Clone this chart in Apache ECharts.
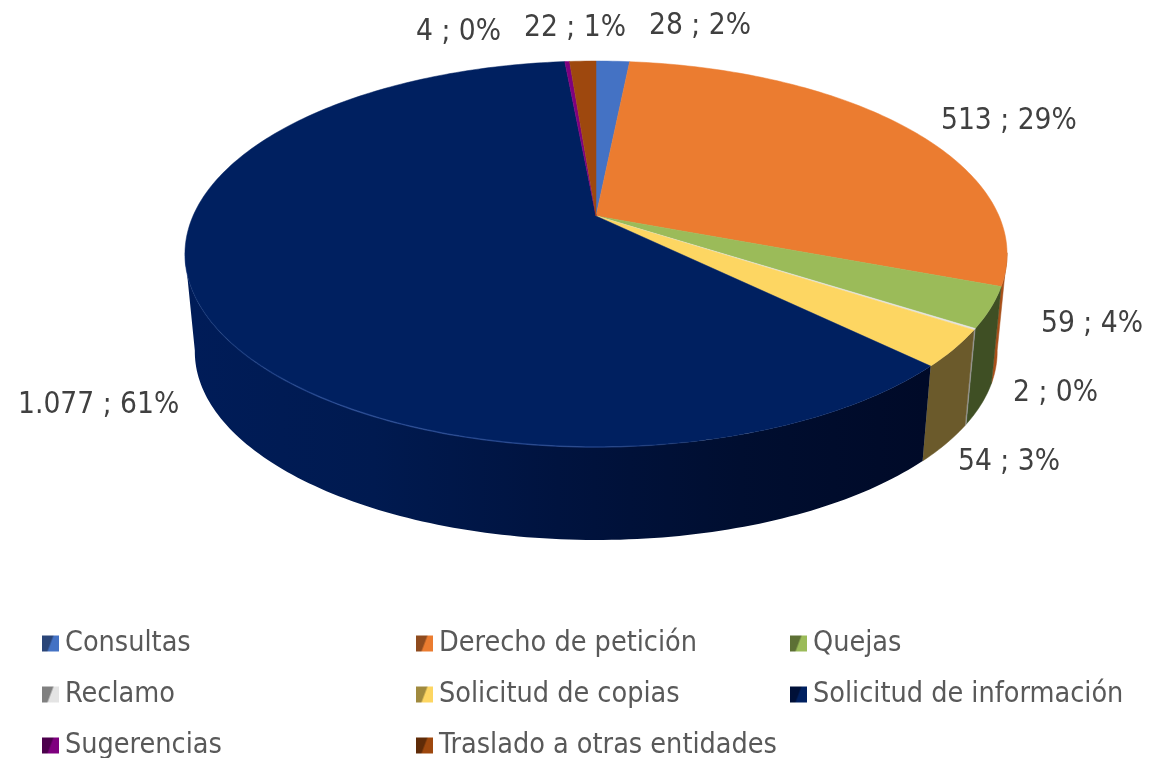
<!DOCTYPE html>
<html>
<head>
<meta charset="utf-8">
<style>html,body{margin:0;padding:0;background:#fff;overflow:hidden}</style>
<script src="https://cdn.jsdelivr.net/npm/echarts@6/dist/echarts.min.js"></script>
</head>
<body>
<div id="main" style="width:1151px;height:758px"></div>
<script>
// data
var categories = ['Consultas', 'Derecho de petición', 'Quejas', 'Reclamo', 'Solicitud de copias', 'Solicitud de información', 'Sugerencias', 'Traslado a otras entidades'];
var values = [28, 513, 59, 2, 54, 1077, 4, 22];
var valueLabels = ['28', '513', '59', '2', '54', '1.077', '4', '22'];
var percentLabels = ['2%', '29%', '4%', '0%', '3%', '61%', '0%', '1%'];

// styles
var topColors = ['#4472c4', '#eb7c30', '#9bbb59', '#e4e4e4', '#fdd662', '#002060', '#7f007f', '#9e480e'];
var wallColors = ['#2a4578', '#a8501a', '#3f4f24', '#9a9a9a', '#6b5a2b', '#00103a', '#4c004c', '#5f2b08'];
var legendDark = ['#2a4578', '#8f4b1e', '#5d7035', '#808080', '#a08a3e', '#001038', '#4c004c', '#5f2b08'];
var labelSpots = [[649, 26], [941, 121], [1041, 324], [1013, 393], [958, 462], [18, 405], [416, 32], [524, 28]];
var FONT = '"DejaVu Sans Condensed", "DejaVu Sans", sans-serif';

// the pie is a tilted disc, seen in perspective
var cx = 596, cy = 216, radX = 403, radY = 185.5, persp = 0.197;
var wallScale = 0.976, wallShift = 103.7;
var wallFrom = 101, wallTo = 259;

var total = values.reduce(function (a, b) { return a + b; }, 0);

function topPoint(deg) {
    var t = deg * Math.PI / 180;
    var w = 1 + persp * Math.cos(t);
    return [cx + radX * Math.sin(t) / w, cy - radY * Math.cos(t) / w];
}

function lowPoint(deg) {
    var p = topPoint(deg);
    return [cx + wallScale * (p[0] - cx), wallShift + wallScale * p[1]];
}

function arc(from, to, fn) {
    var pts = [];
    var n = Math.max(2, Math.ceil(Math.abs(to - from)));
    for (var i = 0; i <= n; i++) {
        pts.push(fn(from + (to - from) * i / n));
    }
    return pts;
}

function sliceRenderer(idx) {
    return function (params, api) {
        var before = 0;
        for (var i = 0; i < idx; i++) before += values[i];
        var start = before / total * 360;
        var end = start + api.value(0) / total * 360;
        var children = [];

        var a = Math.max(start, wallFrom), b = Math.min(end, wallTo);
        if (b > a) {
            var wallPts = arc(a, b, topPoint).concat(arc(b, a, lowPoint));
            var wallFill = wallColors[idx];
            if (idx === 5) {
                wallFill = {
                    type: 'linear', x: 190, y: 0, x2: 925, y2: 0, global: true,
                    colorStops: [
                        { offset: 0, color: '#001c58' },
                        { offset: 0.25, color: '#001a50' },
                        { offset: 0.5, color: '#00133f' },
                        { offset: 0.75, color: '#000e30' },
                        { offset: 1, color: '#000a28' }
                    ]
                };
            }
            children.push({
                type: 'polygon', z2: 1, silent: true,
                shape: { points: wallPts },
                style: { fill: wallFill, stroke: idx === 5 ? null : wallColors[idx], lineWidth: 0.5 }
            });
            // rim highlight on the navy slice only, fading out to the right
            if (idx === 5) {
                children.push({
                    type: 'polyline', z2: 3, silent: true,
                    shape: { points: arc(a, b, topPoint) },
                    style: {
                        fill: null, lineWidth: 1.5,
                        stroke: {
                            type: 'linear', x: 190, y: 0, x2: 925, y2: 0, global: true,
                            colorStops: [
                                { offset: 0, color: 'rgba(40,80,160,0.1)' },
                                { offset: 0.2, color: 'rgba(50,85,160,0.7)' },
                                { offset: 0.55, color: 'rgba(50,85,160,0.6)' },
                                { offset: 0.7, color: 'rgba(50,85,160,0)' },
                                { offset: 1, color: 'rgba(50,85,160,0)' }
                            ]
                        }
                    }
                });
            }
        }

        var topPts = [[cx, cy]].concat(arc(start, end, topPoint));
        children.push({
            type: 'polygon', z2: 2, silent: true,
            shape: { points: topPts },
            style: { fill: topColors[idx], stroke: topColors[idx], lineWidth: 0.5 }
        });

        children.push({
            type: 'text', z2: 5, silent: true,
            x: labelSpots[idx][0], y: labelSpots[idx][1],
            style: {
                text: valueLabels[idx] + ' ; ' + percentLabels[idx],
                fill: '#404040', font: '29.6px ' + FONT,
                verticalAlign: 'middle', align: 'left'
            }
        });
        return { type: 'group', children: children };
    };
}

var series = categories.map(function (name, i) {
    return {
        name: name,
        type: 'custom',
        coordinateSystem: 'none',
        animation: false,
        silent: true,
        itemStyle: { color: topColors[i] },
        data: [[values[i]]],
        renderItem: sliceRenderer(i)
    };
});

function legendColumn(left, ids) {
    return {
        orient: 'vertical',
        left: left,
        top: 629,
        height: 200,
        itemWidth: 17,
        itemHeight: 16,
        itemGap: 22,
        icon: 'rect',
        selectedMode: false,
        padding: 0,
        textStyle: { color: '#595959', fontSize: 28.5, fontFamily: FONT, padding: [0, 0, 0, 1] },
        data: ids.map(function (i) {
            return {
                name: categories[i],
                itemStyle: {
                    color: {
                        type: 'linear', x: 0, y: 0.3, x2: 1, y2: 0.7,
                        colorStops: [
                            { offset: 0, color: legendDark[i] },
                            { offset: 0.45, color: legendDark[i] },
                            { offset: 0.55, color: topColors[i] },
                            { offset: 1, color: topColors[i] }
                        ]
                    }
                }
            };
        })
    };
}

var chart = echarts.init(document.getElementById('main'));
chart.setOption({
    animation: false,
    backgroundColor: '#ffffff',
    legend: [
        legendColumn(42, [0, 3, 6]),
        legendColumn(416, [1, 4, 7]),
        legendColumn(790, [2, 5])
    ],
    series: series
});
</script>
</body>
</html>
